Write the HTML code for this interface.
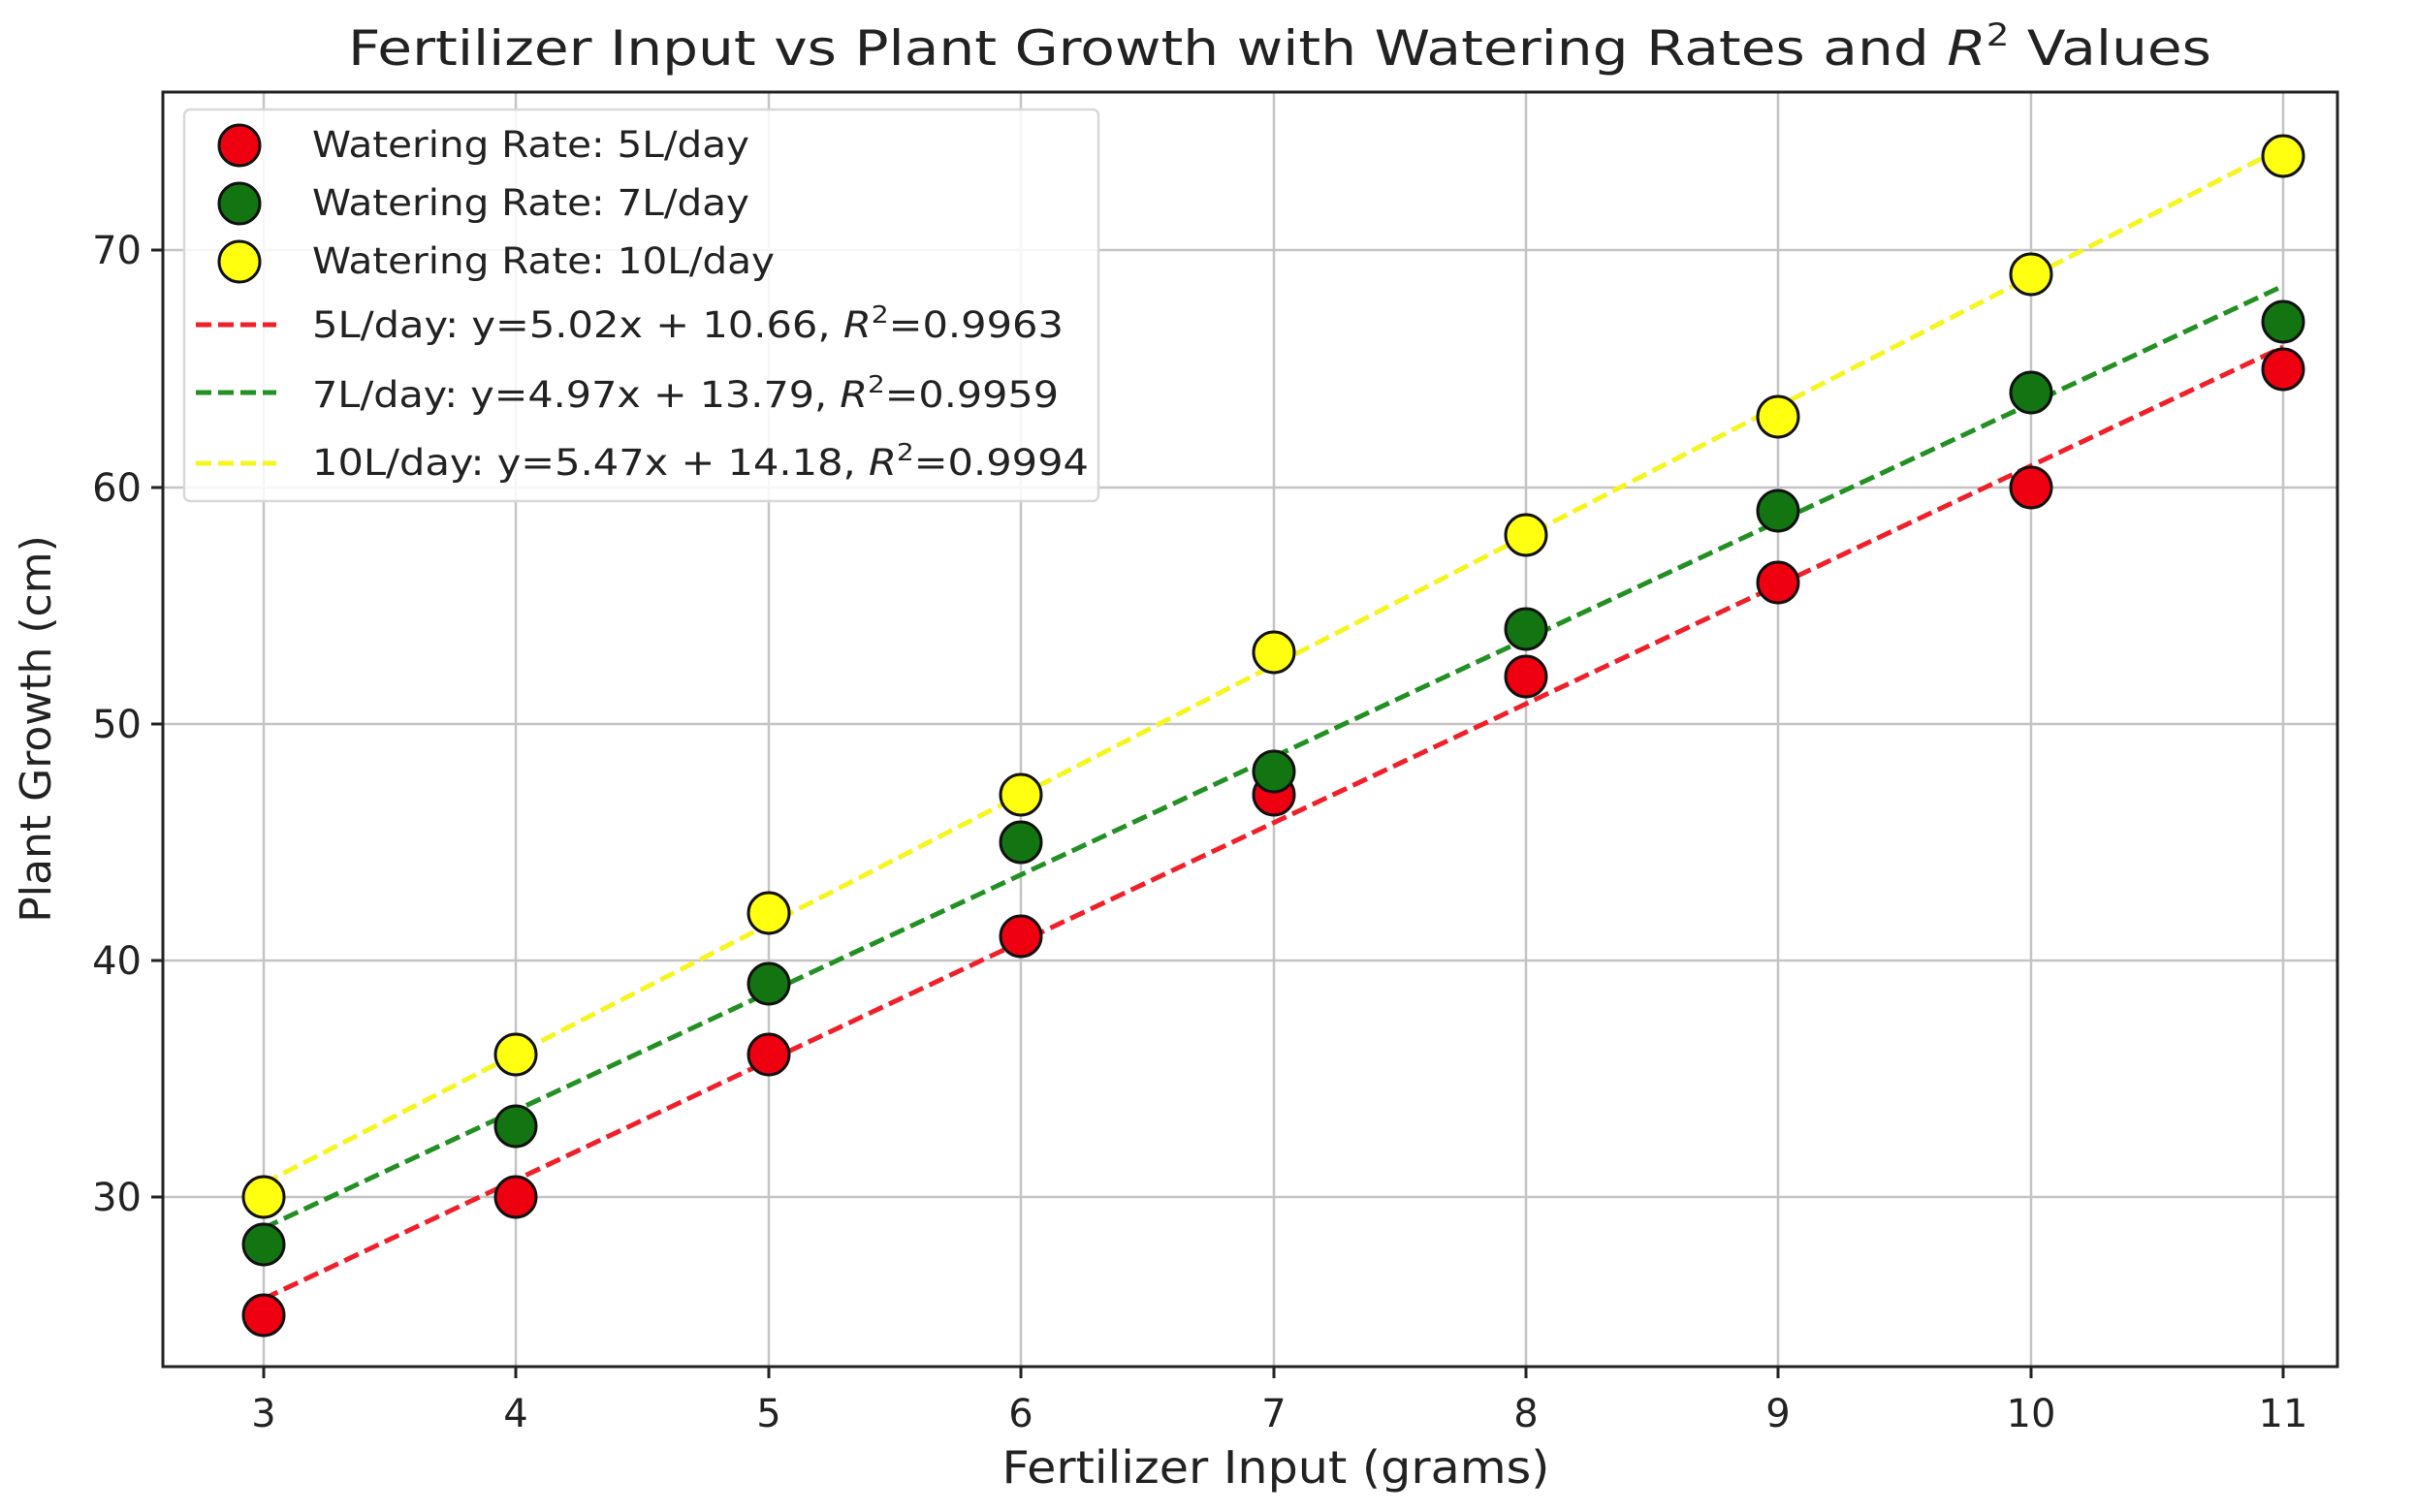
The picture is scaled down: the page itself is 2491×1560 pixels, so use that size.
<!DOCTYPE html>
<html><head><meta charset="utf-8"><style>html,body{margin:0;padding:0;background:#fff}svg{display:block}</style></head>
<body>
<svg width="2491" height="1560" viewBox="0 0 2491 1560" xmlns="http://www.w3.org/2000/svg" font-family="DejaVu Sans, Liberation Sans, sans-serif" fill="#222">
<rect width="2491" height="1560" fill="#fff"/>
<g stroke="#c4c4c4" stroke-width="2.5">
<line x1="272" y1="95" x2="272" y2="1410"/><line x1="532" y1="95" x2="532" y2="1410"/><line x1="793" y1="95" x2="793" y2="1410"/><line x1="1053" y1="95" x2="1053" y2="1410"/><line x1="1314" y1="95" x2="1314" y2="1410"/><line x1="1574" y1="95" x2="1574" y2="1410"/><line x1="1834" y1="95" x2="1834" y2="1410"/><line x1="2095" y1="95" x2="2095" y2="1410"/><line x1="2355" y1="95" x2="2355" y2="1410"/>
<line x1="168" y1="258" x2="2411" y2="258"/><line x1="168" y1="503" x2="2411" y2="503"/><line x1="168" y1="747" x2="2411" y2="747"/><line x1="168" y1="991" x2="2411" y2="991"/><line x1="168" y1="1235" x2="2411" y2="1235"/>
</g>
<rect x="168" y="95" width="2243" height="1315" fill="none" stroke="#222" stroke-width="3"/>
<g stroke="#222" stroke-width="3">
<line x1="272" y1="1410" x2="272" y2="1422"/><line x1="532" y1="1410" x2="532" y2="1422"/><line x1="793" y1="1410" x2="793" y2="1422"/><line x1="1053" y1="1410" x2="1053" y2="1422"/><line x1="1314" y1="1410" x2="1314" y2="1422"/><line x1="1574" y1="1410" x2="1574" y2="1422"/><line x1="1834" y1="1410" x2="1834" y2="1422"/><line x1="2095" y1="1410" x2="2095" y2="1422"/><line x1="2355" y1="1410" x2="2355" y2="1422"/>
<line x1="156" y1="258" x2="168" y2="258"/><line x1="156" y1="503" x2="168" y2="503"/><line x1="156" y1="747" x2="168" y2="747"/><line x1="156" y1="991" x2="168" y2="991"/><line x1="156" y1="1235" x2="168" y2="1235"/>
</g>
<g font-size="40" text-anchor="middle">
<text x="272" y="1472">3</text><text x="532" y="1472">4</text><text x="793" y="1472">5</text><text x="1053" y="1472">6</text><text x="1314" y="1472">7</text><text x="1574" y="1472">8</text><text x="1834" y="1472">9</text><text x="2095" y="1472">10</text><text x="2355" y="1472">11</text>
</g>
<g font-size="40" text-anchor="end">
<text x="146" y="272">70</text><text x="146" y="517">60</text><text x="146" y="761">50</text><text x="146" y="1005">40</text><text x="146" y="1249">30</text>
</g>
<text x="1316" y="1530" font-size="46" text-anchor="middle" textLength="565" lengthAdjust="spacingAndGlyphs">Fertilizer Input (grams)</text>
<text transform="translate(52,752) rotate(-90)" font-size="44" text-anchor="middle">Plant Growth (cm)</text>
<text x="359" y="67" font-size="50" textLength="1922" lengthAdjust="spacingAndGlyphs">Fertilizer Input vs Plant Growth with Watering Rates and <tspan font-style="italic">R</tspan><tspan font-size="32" dy="-20">2</tspan><tspan dy="20"> Values</tspan></text>
<g stroke-width="5" stroke-dasharray="16,7" fill="none">
<line x1="272" y1="1340" x2="2355" y2="358" stroke="#f0202a"/>
<line x1="272" y1="1267" x2="2355" y2="295" stroke="#239023"/>
<line x1="272" y1="1221" x2="2355" y2="152" stroke="#f5f520"/>
</g>
<g stroke="#111" stroke-width="3">
<g fill="#ee0010">
<circle cx="272" cy="1357" r="21"/><circle cx="532" cy="1235" r="21"/><circle cx="793" cy="1088" r="21"/><circle cx="1053" cy="966" r="21"/><circle cx="1314" cy="820" r="21"/><circle cx="1574" cy="698" r="21"/><circle cx="1834" cy="601" r="21"/><circle cx="2095" cy="503" r="21"/><circle cx="2355" cy="381" r="21"/>
</g>
<g fill="#127512">
<circle cx="272" cy="1284" r="21"/><circle cx="532" cy="1162" r="21"/><circle cx="793" cy="1015" r="21"/><circle cx="1053" cy="869" r="21"/><circle cx="1314" cy="796" r="21"/><circle cx="1574" cy="649" r="21"/><circle cx="1834" cy="527" r="21"/><circle cx="2095" cy="405" r="21"/><circle cx="2355" cy="332" r="21"/>
</g>
<g fill="#ffff10">
<circle cx="272" cy="1235" r="21"/><circle cx="532" cy="1088" r="21"/><circle cx="793" cy="942" r="21"/><circle cx="1053" cy="820" r="21"/><circle cx="1314" cy="673" r="21"/><circle cx="1574" cy="552" r="21"/><circle cx="1834" cy="430" r="21"/><circle cx="2095" cy="283" r="21"/><circle cx="2355" cy="161" r="21"/>
</g>
</g>
<rect x="190" y="113" width="943" height="404" rx="6" fill="#fff" fill-opacity="0.85" stroke="#d8d8d8" stroke-width="2.5"/>
<g stroke="#111" stroke-width="3">
<circle cx="247" cy="150" r="21" fill="#ee0010"/>
<circle cx="247" cy="210" r="21" fill="#127512"/>
<circle cx="247" cy="270" r="21" fill="#ffff10"/>
</g>
<g stroke-width="5" stroke-dasharray="16,7">
<line x1="202" y1="335" x2="285" y2="335" stroke="#f0202a"/>
<line x1="202" y1="405" x2="285" y2="405" stroke="#239023"/>
<line x1="202" y1="478" x2="285" y2="478" stroke="#f5f520"/>
</g>
<g font-size="37">
<text x="322" y="162" textLength="451" lengthAdjust="spacingAndGlyphs">Watering Rate: 5L/day</text>
<text x="322" y="222" textLength="451" lengthAdjust="spacingAndGlyphs">Watering Rate: 7L/day</text>
<text x="322" y="282" textLength="477" lengthAdjust="spacingAndGlyphs">Watering Rate: 10L/day</text>
<text x="322" y="348" textLength="775" lengthAdjust="spacingAndGlyphs">5L/day: y=5.02x + 10.66, <tspan font-style="italic">R</tspan><tspan font-size="25" dy="-15">2</tspan><tspan dy="15">=0.9963</tspan></text>
<text x="322" y="420" textLength="770" lengthAdjust="spacingAndGlyphs">7L/day: y=4.97x + 13.79, <tspan font-style="italic">R</tspan><tspan font-size="25" dy="-15">2</tspan><tspan dy="15">=0.9959</tspan></text>
<text x="322" y="490" textLength="801" lengthAdjust="spacingAndGlyphs">10L/day: y=5.47x + 14.18, <tspan font-style="italic">R</tspan><tspan font-size="25" dy="-15">2</tspan><tspan dy="15">=0.9994</tspan></text>
</g>
</svg>
</body></html>
